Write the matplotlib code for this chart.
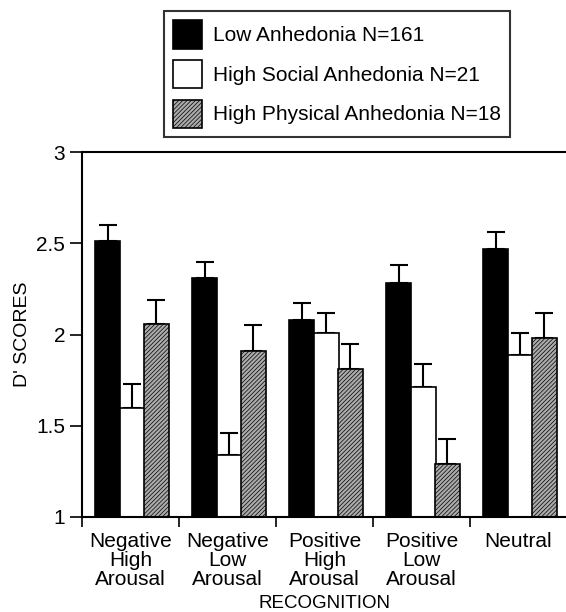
import numpy as np
import matplotlib
matplotlib.use("Agg")
import matplotlib.pyplot as plt

plt.rcParams['font.family'] = ['Liberation Sans', 'DejaVu Sans']
plt.rcParams['hatch.color'] = '#7a7a7a'
plt.rcParams['hatch.linewidth'] = 0.5

# data
categories = ["Negative\nHigh\nArousal", "Negative\nLow\nArousal", "Positive\nHigh\nArousal",
              "Positive\nLow\nArousal", "Neutral"]
groups = ["Low Anhedonia N=161", "High Social Anhedonia N=21", "High Physical Anhedonia N=18"]
low_mean = [2.51, 2.31, 2.08, 2.28, 2.47]
low_err = [0.09, 0.09, 0.09, 0.10, 0.09]
social_mean = [1.60, 1.34, 2.01, 1.71, 1.89]
social_err = [0.13, 0.12, 0.11, 0.13, 0.12]
physical_mean = [2.06, 1.91, 1.81, 1.29, 1.98]
physical_err = [0.13, 0.14, 0.14, 0.14, 0.14]

fig = plt.figure(figsize=(5.66, 6.12), dpi=100)
ax = fig.add_axes([82/566, 95/612, 485/566, 365/612])

x = np.arange(len(categories))
w = 0.255
series = [(low_mean, low_err, 'black', None),
          (social_mean, social_err, 'white', None),
          (physical_mean, physical_err, '#ababab', '////////')]
offs = [0.265, 0.52, 0.765]
for (m, e, c, h), off, lab in zip(series, offs, groups):
    m = np.array(m)
    ax.bar(x + off, m - 1, bottom=1, width=w, color=c, edgecolor='black',
           linewidth=1.2, hatch=h, label=lab, zorder=2)
    ax.errorbar(x + off, m, yerr=[np.zeros(len(m)), e], fmt='none', ecolor='black',
                elinewidth=1.5, capsize=6.5, capthick=1.5, zorder=1)

ax.set_xlim(0, 5)
ax.set_ylim(1, 3)
ax.set_yticks([1, 1.5, 2, 2.5, 3])
ax.set_yticklabels(['1', '1.5', '2', '2.5', '3'])
ax.set_xticks(np.arange(0, 6))
ax.set_xticklabels([])
ax.set_xticks(x + 0.5, minor=True)
ax.set_xticklabels(categories, minor=True, fontsize=15, linespacing=1.0)
ax.tick_params(axis='x', which='minor', length=0, pad=11)
ax.tick_params(axis='x', which='major', direction='out', length=7, width=1.2)
ax.tick_params(axis='y', direction='out', length=9, width=1.2, labelsize=15, pad=3)
ax.spines['right'].set_visible(False)
for s in ['left', 'bottom', 'top']:
    ax.spines[s].set_linewidth(1.5)

ax.set_ylabel("D' SCORES", fontsize=14, labelpad=4)
ax.set_xlabel("RECOGNITION", fontsize=13.5, va='top')
ax.xaxis.set_label_coords(0.5, -(595 - 517) / 365)

leg = fig.legend(loc='upper center', bbox_to_anchor=(0.5954, 0.982), fontsize=15,
                 frameon=True, fancybox=False, edgecolor='black', handlelength=1.4,
                 handleheight=1.7, labelspacing=0.55, handletextpad=0.5, borderpad=0.45,
                 borderaxespad=0)
leg.get_frame().set_linewidth(1.5)

fig.savefig("out.png", dpi=100)
